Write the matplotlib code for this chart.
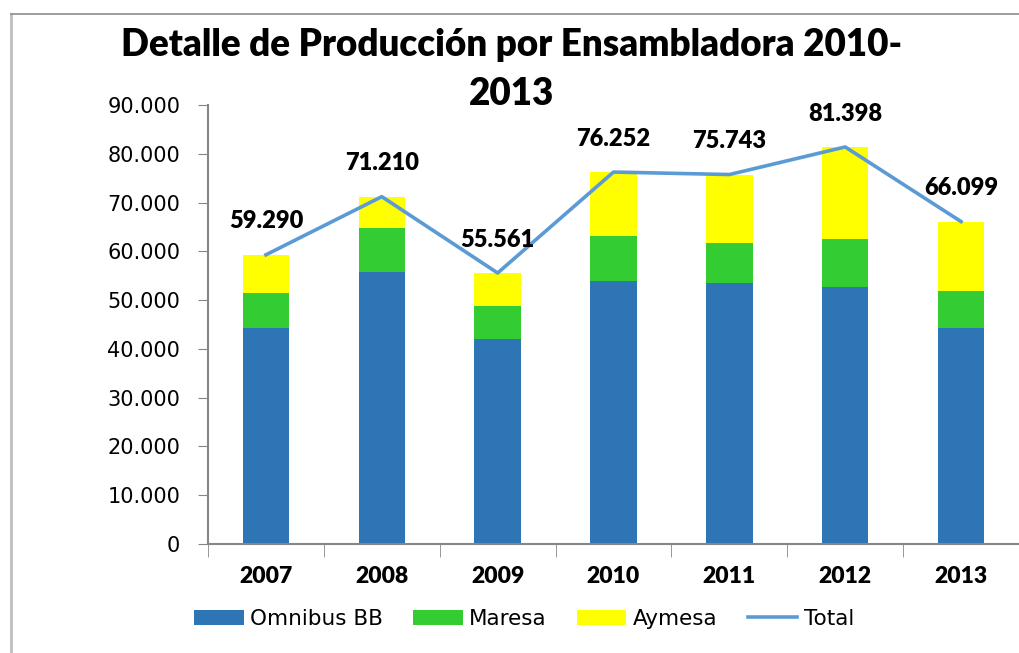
import numpy as np
import matplotlib
matplotlib.use("Agg")
import matplotlib.pyplot as plt
from matplotlib.ticker import FuncFormatter, FixedLocator
from matplotlib.lines import Line2D

# Datos
anios = ["2007", "2008", "2009", "2010", "2011", "2012", "2013"]
omnibus = [44200, 55800, 42000, 54000, 53550, 52700, 44300]
maresa = [7300, 8900, 6800, 9050, 8150, 9900, 7550]
aymesa = [7790, 6510, 6761, 13202, 14043, 18798, 14249]
total = [59290, 71210, 55561, 76252, 75743, 81398, 66099]

c_omni = "#2E75B6"
c_mare = "#33CC33"
c_ayme = "#FFFF00"
c_total = "#5B9BD5"
gris = "#868686"
peso = "heavy"

W, H = 1020, 653
fig = plt.figure(figsize=(W / 100, H / 100), dpi=100)
ax = fig.add_axes([208 / W, 1 - 544 / H, 811 / W, 439 / H])

x = np.arange(len(anios))
bw = 0.4
ax.bar(x, omnibus, bw, color=c_omni, label="Omnibus BB", zorder=2)
ax.bar(x, maresa, bw, bottom=omnibus, color=c_mare, label="Maresa", zorder=2)
base2 = np.array(omnibus) + np.array(maresa)
ax.bar(x, aymesa, bw, bottom=base2, color=c_ayme, label="Aymesa", zorder=2)
ax.plot(x, total, color=c_total, lw=2.6, label="Total", zorder=3)

for xi, t in zip(x, total):
    ax.annotate(f"{t:,}".replace(",", "."), (xi, t), xytext=(0, 24),
                textcoords="offset points", ha="center", va="center",
                fontsize=17, fontweight=peso, family="Lato", color="black")

ax.set_xlim(-0.5, 6.5)
ax.set_ylim(0, 90000)
ax.set_yticks(np.arange(0, 90001, 10000))
ax.yaxis.set_major_formatter(FuncFormatter(lambda v, p: f"{int(v):,}".replace(",", ".")))
ax.tick_params(axis="y", direction="out", length=7, color=gris, labelsize=15, pad=13)

ax.set_xticks(x)
ax.set_xticklabels(anios, fontsize=16.5, fontweight=peso, family="Lato")
ax.tick_params(axis="x", which="major", length=0, pad=16)
ax.xaxis.set_minor_locator(FixedLocator(np.arange(-0.5, 7, 1)))
ax.tick_params(axis="x", which="minor", direction="out", length=9, color=gris)

for s in ["top", "right"]:
    ax.spines[s].set_visible(False)
for s in ["left", "bottom"]:
    ax.spines[s].set_color(gris)
    ax.spines[s].set_linewidth(1.5)

# Títulos en dos líneas como en Excel
fig.text(512 / W, 1 - 56 / H, "Detalle de Producción por Ensambladora 2010-",
         ha="center", va="baseline", fontsize=26.5, fontweight=peso, family="Lato")
fig.text(512 / W, 1 - 105 / H, "2013",
         ha="center", va="baseline", fontsize=26.5, fontweight=peso, family="Lato")

# Marco del área del gráfico
fig.add_artist(Line2D([11 / W, 11 / W], [0, 1 - 14 / H], transform=fig.transFigure,
                      color="#BEBEBE", lw=2))
fig.add_artist(Line2D([11 / W, 1], [1 - 14 / H, 1 - 14 / H], transform=fig.transFigure,
                      color="#8C8C8C", lw=1.2))

h, l = ax.get_legend_handles_labels()
orden = [1, 2, 3, 0]
fig.legend([h[i] for i in orden], [l[i] for i in orden], loc="center",
           bbox_to_anchor=(524 / W, 1 - 619 / H), ncol=4, frameon=False,
           fontsize=15.5, handlelength=2.3, handleheight=0.7, handletextpad=0.3,
           columnspacing=1.4)

plt.savefig("out.png", dpi=100)
plt.close()
